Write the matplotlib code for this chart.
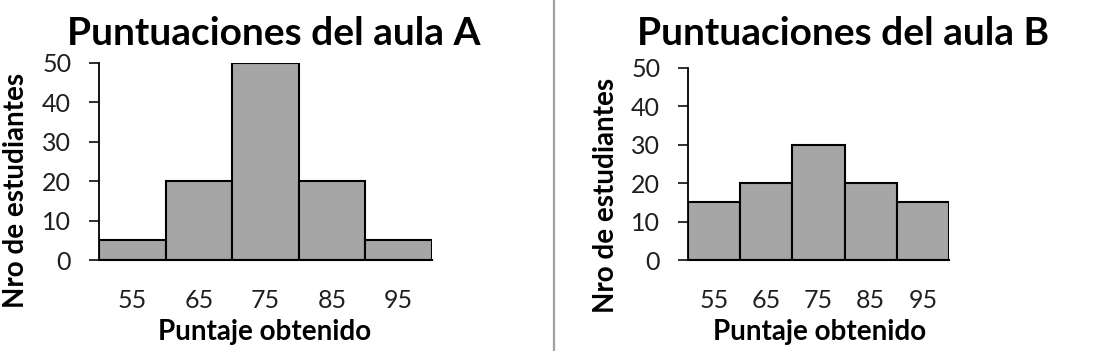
import numpy as np
import matplotlib
matplotlib.use("Agg")
import matplotlib.pyplot as plt
from matplotlib.lines import Line2D

plt.rcParams['font.family'] = ['Lato', 'DejaVu Sans']

# histogram data: bin centres and counts
centros = [55, 65, 75, 85, 95]
aula_a = [5, 20, 50, 20, 5]
aula_b = [15, 20, 30, 20, 15]
yticks = [0, 10, 20, 30, 40, 50]

W, H = 1111, 351
fig = plt.figure(figsize=(W / 100, H / 100), dpi=100)

# axes placement (figure fractions in pixels)
ax_a = fig.add_axes([99 / W, 1 - 260 / H, 333 / W, 197 / H])
ax_b = fig.add_axes([688 / W, 1 - 260 / H, 261 / W, 192 / H])


def draw_hist(ax, counts, title, title_x, xlab_x, ylab_x, ylab_y):
    ax.bar(centros, counts, width=10, color='#a6a6a6', edgecolor='black', linewidth=1.5)
    ax.set_xlim(50, 100)
    ax.set_ylim(0, 50)
    ax.set_yticks(yticks)
    ax.set_xticks(centros)
    ax.spines['top'].set_visible(False)
    ax.spines['right'].set_visible(False)
    ax.spines['left'].set_linewidth(1.3)
    ax.spines['bottom'].set_linewidth(1.5)
    ax.tick_params(axis='x', length=0, pad=21, labelsize=18, colors='#1f1f1f')
    ax.tick_params(axis='y', length=7, width=1.3, direction='out', pad=13, labelsize=18, colors='#1f1f1f')
    fig.text(title_x / W, 1 - 45 / H, title, ha='center', va='baseline',
             fontsize=28, fontweight='bold')
    ax.set_xlabel('Puntaje obtenido', fontsize=20, fontweight='bold', va='center')
    ax.xaxis.set_label_coords(xlab_x / W, 1 - 332 / H, transform=fig.transFigure)
    ax.set_ylabel('Nro de estudiantes', fontsize=20, fontweight='bold', va='center', ha='center')
    ax.yaxis.set_label_coords(ylab_x / W, 1 - ylab_y / H, transform=fig.transFigure)


draw_hist(ax_a, aula_a, 'Puntuaciones del aula A', 274, 265, 16, 190)
draw_hist(ax_b, aula_b, 'Puntuaciones del aula B', 843, 820, 606, 195)

# grey separator between the two panels
fig.add_artist(Line2D([554 / W, 554 / W], [0, 1], transform=fig.transFigure,
                      color='#a0a0a0', linewidth=1.6))

fig.savefig('out.png', dpi=100)
